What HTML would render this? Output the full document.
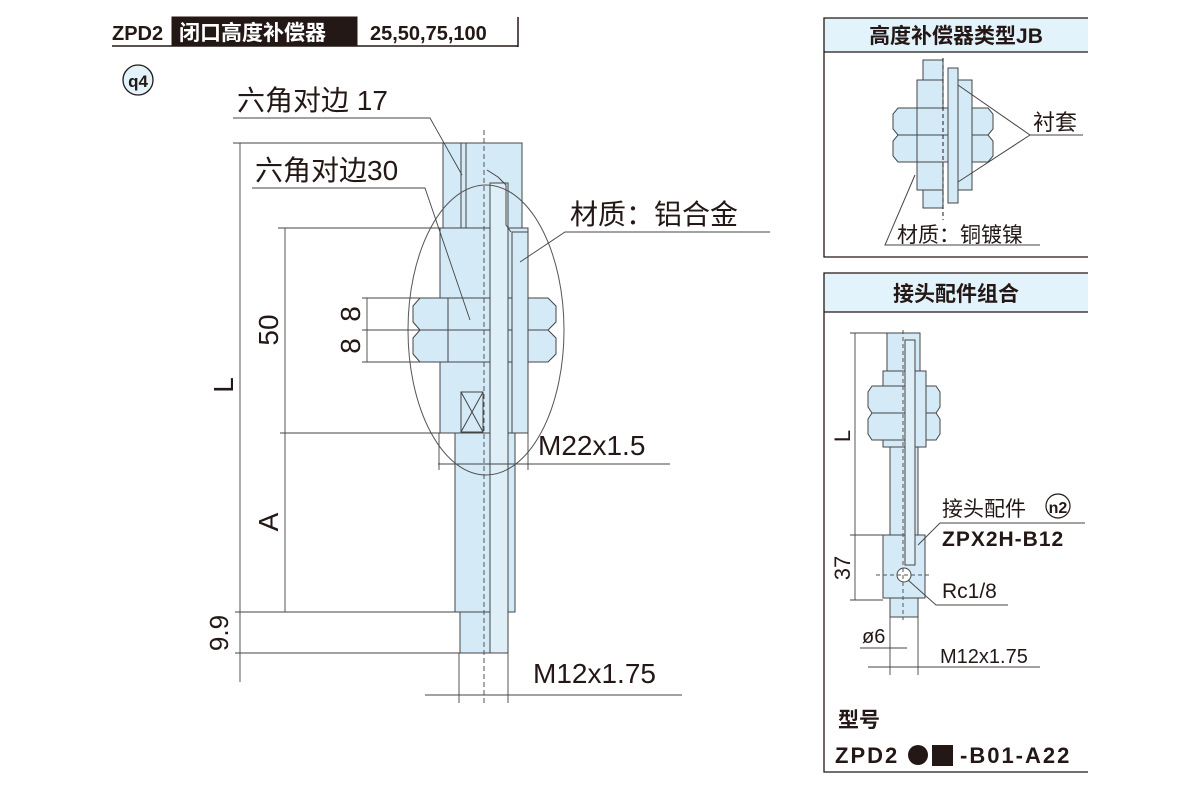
<!DOCTYPE html>
<html><head><meta charset="utf-8"><style>
html,body{margin:0;padding:0;background:#fff;}
svg{display:block;}
text{font-family:"Liberation Sans","Noto Sans CJK SC",sans-serif;fill:#231815;}
</style></head><body>
<svg width="1200" height="800" viewBox="0 0 1200 800" xmlns="http://www.w3.org/2000/svg">
<g stroke="#231815" fill="none" stroke-width="1">
<!-- header -->
<rect x="172" y="17" width="185" height="29" fill="#231815"/>
<line x1="112" y1="46" x2="518" y2="46" stroke-width="1.5"/>
<line x1="518" y1="17" x2="518" y2="47" stroke-width="1.5"/>
<circle cx="138" cy="80" r="15" fill="#e3f3fb" stroke-width="1.3"/>

<!-- main part fills -->
<g fill="#d4ebf7" stroke="#444">
<rect x="443" y="143" width="79" height="86"/>
<rect x="440" y="228" width="88" height="205"/>
<rect x="455" y="433" width="60" height="179"/>
<rect x="460" y="612" width="48" height="41"/>
<path d="M420,298 H548 L556,306 V322 L548,330 H420 L413,322 V306 Z"/>
<path d="M420,330 H548 L556,338 V354 L548,362 H420 L413,354 V338 Z"/>
<rect x="490" y="183" width="18" height="470" fill="#dfeff8"/>
<rect x="512" y="232" width="16" height="201"/>
</g>
<line x1="448" y1="298" x2="448" y2="362" stroke="#444"/>
<line x1="461" y1="143" x2="461" y2="228" stroke="#444"/>
<line x1="466" y1="143" x2="466" y2="228" stroke="#444"/>
<rect x="461" y="392" width="22" height="40" stroke="#444"/>
<path d="M461,392 L483,432 M483,392 L461,432" stroke="#444"/>
<path d="M487,170 L498,177 L506,185 V225 L511,232" stroke="#444"/>
<line x1="484" y1="130" x2="484" y2="705" stroke-dasharray="5,3" stroke="#555"/>
<ellipse cx="486" cy="330" rx="78" ry="145" stroke="#555"/>

<!-- dims main -->
<g stroke="#444" stroke-width="0.9">
<line x1="240" y1="143" x2="240" y2="682"/>
<line x1="233" y1="143" x2="522" y2="143"/>
<line x1="285" y1="228" x2="285" y2="612"/>
<line x1="278" y1="228" x2="484" y2="228"/>
<line x1="280" y1="433" x2="460" y2="433"/>
<line x1="235" y1="612" x2="455" y2="612"/>
<line x1="235" y1="653" x2="460" y2="653"/>
<line x1="367" y1="298" x2="367" y2="362"/>
<line x1="362" y1="298" x2="420" y2="298"/>
<line x1="362" y1="330" x2="420" y2="330"/>
<line x1="362" y1="362" x2="420" y2="362"/>
<line x1="438" y1="464" x2="670" y2="464"/>
<line x1="439" y1="433" x2="439" y2="470"/>
<line x1="528" y1="433" x2="528" y2="470"/>
<line x1="425" y1="695" x2="682" y2="695"/>
<line x1="459" y1="653" x2="459" y2="703"/>
<line x1="508" y1="653" x2="508" y2="703"/>
<path d="M233,118 H430 L462,175"/>
<path d="M252,188 H425 L470,320"/>
<path d="M770,232 H565 L520,262"/>
</g>

<!-- right panel 1 -->
<rect x="824" y="18" width="264" height="34" fill="#e3f3fb" stroke="none"/>
<path d="M1088,18 H824 V257 H1088 M824,52 H1088" stroke-width="1.3"/>
<g fill="#d4ebf7" stroke="#444">
<rect x="917" y="80" width="26" height="110"/>
<path d="M898,108 H988 L993,114 V129 L988,135 H898 L893,129 V114 Z"/>
<path d="M898,135 H988 L993,141 V156 L988,162 H898 L893,156 V141 Z"/>
<rect x="948" y="68" width="10" height="135"/>
<rect x="958" y="80" width="14" height="110"/>
<rect x="923" y="60" width="20" height="20"/>
<rect x="923" y="190" width="20" height="18"/>
</g>
<line x1="917" y1="108" x2="917" y2="162" stroke="#444"/>
<line x1="943" y1="58" x2="943" y2="220" stroke-dasharray="4,3"/>
<path d="M1083,135 H1030 L958,85 M1030,135 L958,182" stroke="#444"/>
<path d="M1040,245 H885 L915,175" stroke="#444"/>

<!-- right panel 2 -->
<rect x="824" y="273" width="264" height="39" fill="#e3f3fb" stroke="none"/>
<path d="M1088,273 H824 V772 H1088 M824,312 H1088" stroke-width="1.3"/>
<g fill="#d4ebf7" stroke="#444">
<rect x="887" y="333" width="33" height="38"/>
<rect x="883" y="371" width="43" height="76"/>
<path d="M872,386 H936 L940,392 V407 L936,413 H872 L868,407 V392 Z"/>
<path d="M872,413 H936 L940,419 V434 L936,440 H872 L868,434 V419 Z"/>
<rect x="890" y="447" width="28" height="88"/>
<rect x="883" y="535" width="42" height="63"/>
<rect x="890" y="598" width="28" height="19"/>
<rect x="905" y="340" width="10" height="225" fill="#dfeff8"/>
<rect x="915" y="371" width="11" height="76"/>
</g>
<circle cx="904" cy="575" r="7" fill="#fff" stroke="#444"/>
<line x1="903" y1="330" x2="903" y2="620" stroke-dasharray="4,3" stroke="#555"/>
<line x1="876" y1="575" x2="932" y2="575" stroke-dasharray="4,3" stroke="#555"/>
<g stroke="#444" stroke-width="0.9">
<line x1="855" y1="333" x2="855" y2="600"/>
<line x1="850" y1="333" x2="920" y2="333"/>
<line x1="850" y1="535" x2="883" y2="535"/>
<line x1="850" y1="600" x2="883" y2="600"/>
<path d="M1085,523 H940 L918,545"/>
<path d="M1008,605 H936 L908,580"/>
<line x1="860" y1="648" x2="907" y2="648"/>
<line x1="868" y1="667" x2="1040" y2="667"/>
<line x1="890" y1="617" x2="890" y2="675"/>
<line x1="918" y1="617" x2="918" y2="675"/>
</g>
<circle cx="1058" cy="506" r="12" fill="#fff" stroke-width="1.2"/>
</g>

<!-- text -->
<text x="112" y="40" font-size="20" font-weight="bold">ZPD2</text>
<text x="179" y="40" font-size="21" font-weight="bold" style="fill:#fff">闭口高度补偿器</text>
<text x="370" y="40" font-size="20" font-weight="bold">25,50,75,100</text>
<text x="138" y="87" font-size="17" font-weight="bold" text-anchor="middle">q4</text>
<text x="237" y="110" font-size="28">六角对边 17</text>
<text x="255" y="180" font-size="28">六角对边30</text>
<text x="570" y="224" font-size="28">材质：铝合金</text>
<text x="538" y="455" font-size="28">M22x1.5</text>
<text x="533" y="683" font-size="28">M12x1.75</text>
<text font-size="28" transform="translate(233,385) rotate(-90)" text-anchor="middle">L</text>
<text font-size="28" transform="translate(278,330) rotate(-90)" text-anchor="middle">50</text>
<text font-size="28" transform="translate(278,522) rotate(-90)" text-anchor="middle">A</text>
<text font-size="28" transform="translate(360,314) rotate(-90)" text-anchor="middle">8</text>
<text font-size="28" transform="translate(360,346) rotate(-90)" text-anchor="middle">8</text>
<text font-size="26" transform="translate(228,633) rotate(-90)" text-anchor="middle">9.9</text>

<text x="956" y="43" font-size="21" font-weight="bold" text-anchor="middle">高度补偿器类型JB</text>
<text x="1033" y="130" font-size="22">衬套</text>
<text x="897" y="242" font-size="21">材质：铜镀镍</text>
<text x="956" y="301" font-size="21" font-weight="bold" text-anchor="middle">接头配件组合</text>
<text font-size="22" transform="translate(850,436) rotate(-90)" text-anchor="middle">L</text>
<text font-size="22" transform="translate(850,568) rotate(-90)" text-anchor="middle">37</text>
<text x="942" y="516" font-size="21">接头配件</text>
<text x="1058" y="513" font-size="16" font-weight="bold" text-anchor="middle">n2</text>
<text x="942" y="546" font-size="21" font-weight="bold" letter-spacing="1">ZPX2H-B12</text>
<text x="942" y="598" font-size="21">Rc1/8</text>
<text x="862" y="643" font-size="20">ø6</text>
<text x="940" y="663" font-size="20">M12x1.75</text>
<text x="838" y="727" font-size="21" font-weight="bold">型号</text>
<text x="835" y="763" font-size="22" font-weight="bold" letter-spacing="2">ZPD2</text>
<circle cx="918" cy="755" r="10" fill="#231815"/>
<rect x="932" y="745" width="21" height="21" fill="#231815"/>
<text x="960" y="763" font-size="22" font-weight="bold" letter-spacing="2">-B01-A22</text>
</svg>
</body></html>
